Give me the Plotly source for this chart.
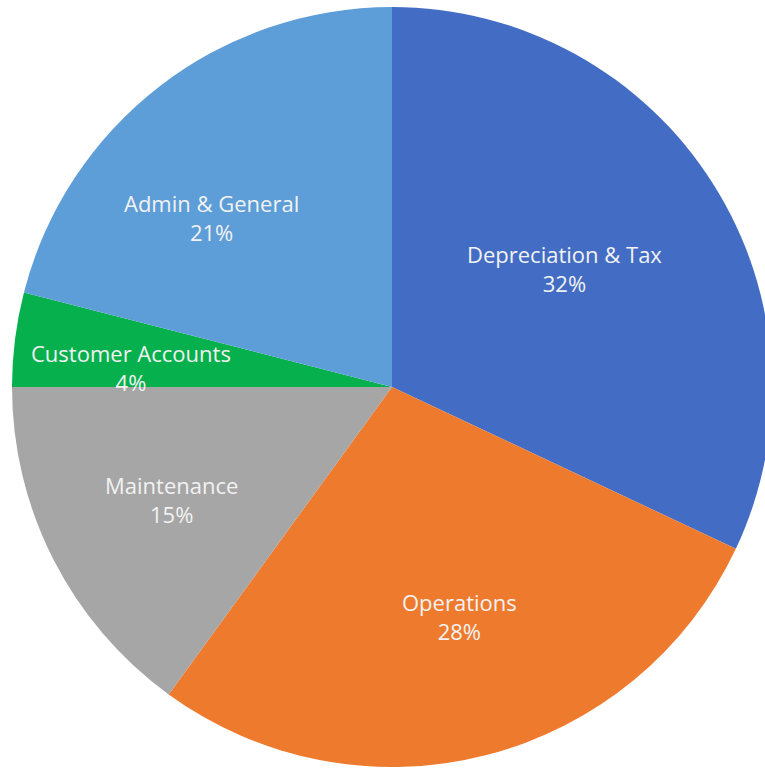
import math
import plotly.graph_objects as go

# Cost breakdown (percent of total)
labels = ["Depreciation & Tax", "Operations", "Maintenance", "Customer Accounts", "Admin & General"]
values = [32, 28, 15, 4, 21]
colors = ["#436DC4", "#EE7A2E", "#A6A6A6", "#06B04C", "#5D9DD8"]

# label placement (fraction of radius, angle tweak in degrees)
label_r = [0.55, 0.63, 0.65, 0.69, 0.65]
label_shift = [-2, -2, 0, -3, -9]

W, H = 784, 774
cx, cy, R = 392, 387, 380  # pie centre / radius in px

fig = go.Figure(go.Pie(
    labels=labels,
    values=values,
    marker=dict(colors=colors, line=dict(width=0)),
    sort=False,
    direction="clockwise",
    rotation=0,
    textinfo="none",
    hoverinfo="label+percent",
    domain=dict(x=[(cx - R) / W, (cx + R) / W], y=[1 - (cy + R) / H, 1 - (cy - R) / H]),
    showlegend=False,
))

# labels at slice mid-angles, computed from the values
total = sum(values)
start = 0.0
for lab, v, fr, sh in zip(labels, values, label_r, label_shift):
    mid = (start + v / 2) / total * 360 + sh
    start += v
    a = math.radians(mid)
    px = cx + fr * R * math.sin(a)
    py = cy - fr * R * math.cos(a)
    fig.add_annotation(
        x=px / W, y=1 - py / H, xref="paper", yref="paper",
        xanchor="center", yanchor="middle",
        text=f"{lab}<br>{round(v / total * 100)}%",
        showarrow=False,
        font=dict(family="Open Sans", size=22, color="#F2F2F2"),
    )

fig.update_layout(
    width=W, height=H,
    margin=dict(l=0, r=0, t=0, b=0),
    paper_bgcolor="white",
    plot_bgcolor="white",
)

fig.write_html(
    "out.html",
    config={"displayModeBar": False},
    post_script="document.documentElement.style.overflow='hidden';document.body.style.overflow='hidden';document.body.style.margin='0';",
)
